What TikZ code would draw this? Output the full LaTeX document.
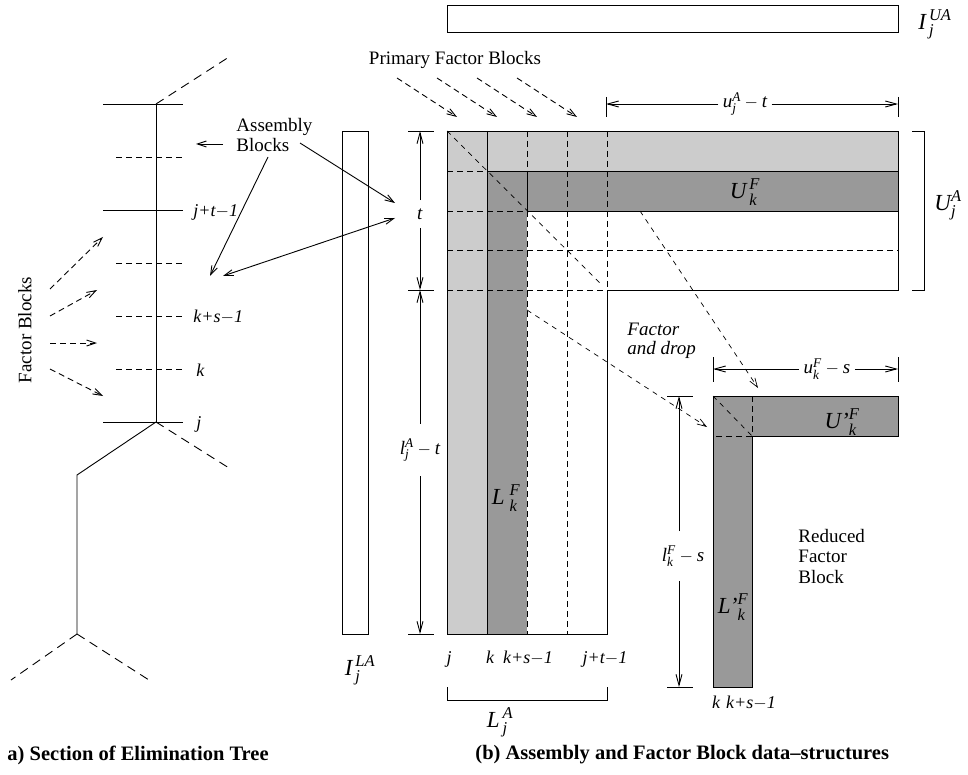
\documentclass[tikz,border=0pt]{standalone}
\usepackage{amsmath}
\usepackage{fontspec}
\setmainfont{Liberation Serif}
\usetikzlibrary{arrows.meta,positioning}
\definecolor{lightblk}{RGB}{204,204,204}
\definecolor{darkblk}{RGB}{153,153,153}
\DeclareMathSizes{23}{23}{16.5}{12}

\begin{document}
\begin{tikzpicture}[x=1pt,y=-1pt,
  line width=0.9pt,
  txt/.style={font=\fontsize{19}{20.5}\selectfont, inner sep=0pt, align=left},
  itl/.style={font=\fontsize{18}{20}\selectfont\itshape, inner sep=0pt},
  sym/.style={font=\fontsize{23}{25}\selectfont, inner sep=0pt},
  dimlbl/.style={font=\fontsize{19}{21}\selectfont, inner sep=4pt},
  caption/.style={font=\fontsize{20.5}{23}\selectfont\bfseries, inner sep=0pt, anchor=west},
  dashln/.style={dash pattern=on 6pt off 4pt},
  treedash/.style={dash pattern=on 9pt off 6pt},
  diagln/.style={line width=0.7pt, dash pattern=on 5pt off 5pt},
  tipline/.style={-{Straight Barb[length=9pt,width=6pt]}},
  twotip/.style={{Straight Barb[length=9pt,width=6pt]}-{Straight Barb[length=9pt,width=6pt]}},
  dimline/.style={-{Straight Barb[length=11pt,width=6pt]}},
]
\useasboundingbox (0,0) rectangle (968,775);

% (a) elimination tree
\draw (103,104) -- (183,104);
\draw (103,210) -- (183,210);
\draw (103,422) -- (183,422);
\draw (156,104) -- (156,422);
\foreach \y in {157,263,316,369}
  \draw[dashln] (116,\y) -- (183,\y);
\draw (156,422) -- (77,475) -- (77,634);
\draw[treedash] (156,104) -- (229,57);
\draw[treedash] (156,422) -- (229,468);
\draw[treedash] (77,634) -- (11,680);
\draw[treedash] (77,634) -- (149,680);

\node[itl, anchor=base west] (jt) at (193,217) {j+t$-$1};
\node[itl, anchor=base west] (ks) at (193,323) {k+s$-$1};
\node[itl, anchor=base west] (kk) at (196,376) {k};
\node[itl, anchor=base west] (jj) at (196,428) {j};

\node[txt, rotate=90] (fblk) at (25,330) {Factor Blocks};
\foreach \ys/\ye/\xe [count=\i] in {289/237/103, 316/290/97, 343/343/97, 369/396/103} {
  \coordinate (fa\i) at (50,\ys);
  \coordinate (fb\i) at (\xe,\ye);
  \draw[dashln, tipline] (fa\i) -- (fb\i);
}

% assembly blocks pointers
\node[txt, anchor=west] (asm) at (236,135) {Assembly\\Blocks};
\coordinate (asmA) at (223,144);
\coordinate (asmB) at (268,157);
\coordinate (asmC) at (300,143);
\coordinate (treeA) at (196,144);
\coordinate (treeB) at (210,276);
\coordinate (treeC) at (223,276);
\coordinate (tA) at (395,203);
\coordinate (tB) at (395,218);
\draw[tipline] (asmA) -- (treeA);
\draw[tipline] (asmB) -- (treeB);
\draw[tipline] (asmC) -- (tA);
\draw[twotip] (treeC) -- (tB);

% index vectors
\draw (447,5) rectangle (898,32);
\node[sym, anchor=west] (iua) at (918,24) {$\textit{I}^{\,\textit{UA}}_{\,\textit{j}}$};
\draw (342,131) rectangle (368,634);
\node[sym] (ila) at (360,670) {$\textit{I}^{\,\textit{LA}}_{\,\textit{j}}$};

% primary factor blocks
\node[txt] (pfb) at (455,60) {Primary Factor Blocks};
\foreach \x [count=\i] in {457,497,537,577} {
  \coordinate (pa\i) at (\x-60,78);
  \coordinate (pb\i) at (\x,117);
  \draw[dashln, tipline] (pa\i) -- (pb\i);
}

% assembly block
\fill[lightblk] (447,131) rectangle (898,171);
\fill[lightblk] (447,131) rectangle (487,634);
\fill[darkblk] (487,171) rectangle (898,211);
\fill[darkblk] (487,171) rectangle (527,634);
\draw[dashln] (447,171) -- (487,171);
\draw[dashln] (447,211) -- (527,211);
\draw[dashln] (447,250) -- (898,250);
\draw[dashln] (447,290) -- (607,290);
\draw[dashln] (527,131) -- (527,171);
\draw[dashln] (527,211) -- (527,634);
\draw[dashln] (567,131) -- (567,634);
\draw[dashln] (607,131) -- (607,290);
\draw[diagln] (447,131) -- (603,286);
\draw (487,131) -- (487,634);
\draw (487,171) -- (898,171);
\draw (527,171) -- (527,211) -- (898,211);
\draw (447,131) -- (898,131) -- (898,290) -- (607,290) -- (607,634) -- (447,634) -- cycle;
\node[sym] (ukf) at (745,192) {$\textit{U}^{\,\textit{F}}_{\,\textit{k}}$};
\node[sym] (lkf) at (506,498) {$\textit{L}^{\;\textit{F}}_{\;\textit{k}}$};

% U bracket
\draw (912,131) -- (924,131) -- (924,290) -- (912,290);
\node[sym] (uja) at (948,205) {$\textit{U}^{\textit{A}}_{\textit{j}}$};

% L bracket
\draw (447,687) -- (447,700) -- (607,700) -- (607,687);
\node[sym] (lja) at (500,722) {$\textit{L}^{\,\textit{A}}_{\,\textit{j}}$};

% column indices
\node[itl, anchor=base] (cj) at (449,663) {j};
\node[itl, anchor=base] (ck) at (490,663) {k};
\node[itl, anchor=base] (cks) at (528,663) {k+s$-$1};
\node[itl, anchor=base] (cjt) at (605,663) {j+t$-$1};

% dimensions
\draw (408,131) -- (434,131);
\draw (408,290) -- (434,290);
\draw (408,634) -- (434,634);
\node[dimlbl, inner ysep=8pt] (tlab) at (420,214) {\textit{t}};
\draw[dimline] (tlab.north) -- (420,131);
\draw[dimline] (tlab.south) -- (420,290);
\node[dimlbl, inner ysep=14pt] (ljlab) at (420,450) {$\textit{l}^{\textit{A}}_{\textit{j}}-\textit{t}$};
\draw[dimline] (ljlab.north) -- (420,290);
\draw[dimline] (ljlab.south) -- (420,634);

\draw (606,97) -- (606,117);
\draw (898,97) -- (898,117);
\node[dimlbl] (ujlab) at (745,104) {$\textit{u}^{\textit{A}}_{\textit{j}}-\textit{t}$};
\draw[dimline] (ujlab.west) -- (606,104);
\draw[dimline] (ujlab.east) -- (898,104);

% reduced factor block
\draw[fill=darkblk] (713,396) -- (898,396) -- (898,436) -- (752,436) -- (752,687) -- (713,687) -- cycle;
\draw[dashln] (752,396) -- (752,436) -- (713,436);
\draw[diagln] (713,396) -- (752,436);
\node[sym] (ukp) at (842,422) {$\textit{U'}^{\textit{F}}_{\textit{k}}$};
\node[sym] (lkp) at (733,607) {$\textit{L'}^{\textit{F}}_{\textit{k}}$};
\node[txt, anchor=west] (rfb) at (798,556) {Reduced\\Factor\\Block};
\node[itl, anchor=base] (rk) at (716,708) {k};
\node[itl, anchor=base] (rks) at (751,708) {k+s$-$1};

\draw (713,357) -- (713,382);
\draw (898,357) -- (898,382);
\node[dimlbl] (uklab) at (827,369) {$\textit{u}^{\textit{F}}_{\textit{k}}-\textit{s}$};
\draw[dimline] (uklab.west) -- (713,369);
\draw[dimline] (uklab.east) -- (898,369);

\draw (667,396) -- (693,396);
\draw (667,687) -- (693,687);
\node[dimlbl, inner ysep=14pt] (lklab) at (683,556) {$\textit{l}^{\textit{F}}_{\textit{k}}-\textit{s}$};
\draw[dimline] (lklab.north -| 679,0) -- (679,396);
\draw[dimline] (lklab.south -| 679,0) -- (679,687);

% factor and drop
\node[txt, anchor=west, font=\fontsize{19}{19.5}\selectfont\itshape] (fad) at (627,341) {Factor\\and drop};
\coordinate (ufoot) at (640,211);
\coordinate (uhead) at (758,388);
\coordinate (lfoot) at (527,310);
\coordinate (lhead) at (707,427);
\draw[diagln, tipline] (ufoot) -- (uhead);
\draw[diagln, tipline] (lfoot) -- (lhead);

% captions
\node[caption] (capa) at (7,755) {a) Section of Elimination Tree};
\node[caption] (capb) at (475,755) {(b) Assembly and Factor Block data--structures};
\end{tikzpicture}
\end{document}
